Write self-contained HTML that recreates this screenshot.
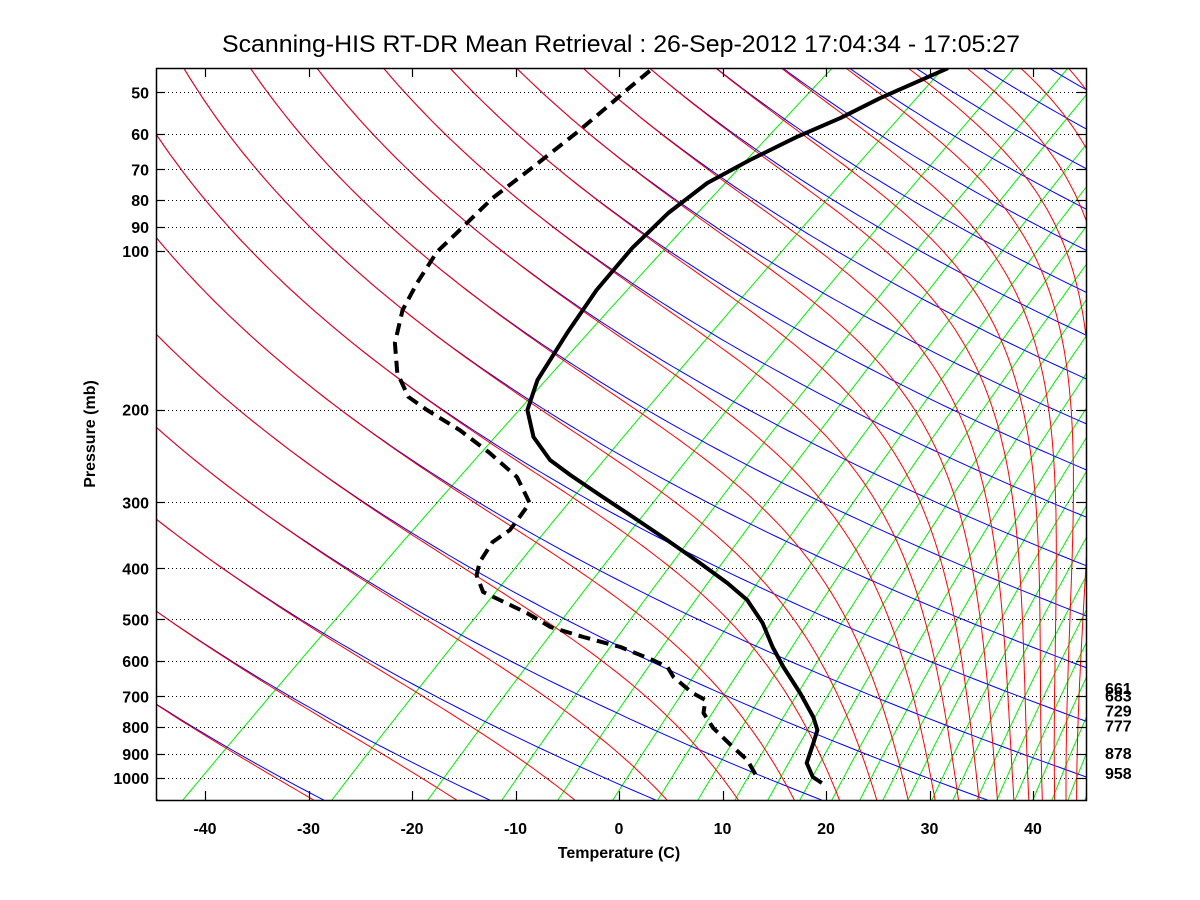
<!DOCTYPE html>
<html>
<head>
<meta charset="utf-8">
<style>
  html, body { margin: 0; padding: 0; background: #fff; }
  svg { display: block; }
  text { font-family: "Liberation Sans", Arial, sans-serif; fill: #000; }
  .tick { font-size: 16px; font-weight: bold; }
</style>
</head>
<body>
<svg id="chart" width="1200" height="900" viewBox="0 0 1200 900">
  <defs>
    <clipPath id="plotclip"><rect x="156" y="68" width="930" height="732"/></clipPath>
  </defs>
  <rect x="0" y="0" width="1200" height="900" fill="#fff"/>
  <text x="621" y="52" font-size="24" text-anchor="middle" textLength="798" lengthAdjust="spacingAndGlyphs">Scanning-HIS RT-DR Mean Retrieval : 26-Sep-2012 17:04:34 - 17:05:27</text>
  <g id="grid" clip-path="url(#plotclip)"></g>
  <g id="axes"></g>
  <text x="619" y="858" class="tick" text-anchor="middle">Temperature (C)</text>
  <text x="0" y="0" class="tick" text-anchor="middle" transform="translate(95,434) rotate(-90)">Pressure (mb)</text>
</svg>
<script>
// ---- chart data ----
const tempPressure = [45, 51.3, 55.9, 60.8, 67.2, 74.3, 84.7, 98.7, 118.6, 143, 175.7, 200.3, 225.4, 249.2, 266.1, 290.4, 319.7, 353.5, 390.9, 426.6, 459.5, 508, 564.2, 615.8, 689.9, 766, 810.9, 858.3, 936.5, 995.6, 1022];
const tempValues = [-55.1, -58.0, -59.4, -61.3, -63.0, -64.3, -64.4, -63.6, -61.9, -59.5, -56.6, -53.9, -50.0, -45.6, -41.8, -36.5, -30.6, -24.5, -18.5, -13.4, -9.4, -5.1, -1.2, 2.3, 7.1, 11.3, 13.3, 14.5, 16.3, 18.6, 20.2];
const dewPressure = [45.5, 48.9, 53.3, 59.4, 69.3, 79.3, 92.4, 100.4, 115, 129.4, 149.5, 170.4, 189.2, 200.3, 218.6, 241.6, 268.5, 300.7, 324, 338.5, 356.7, 389.2, 412, 443.6, 459.5, 486.3, 517, 540, 564.2, 597.1, 615.8, 643.2, 689.9, 711.1, 752.7, 804, 873.3, 924.5, 995.6];
const dewValues = [-83.6, -83.5, -83.3, -83.1, -83.1, -83.2, -82.4, -82.0, -80.1, -78.2, -74.9, -71.0, -67.0, -63.6, -58.0, -52.3, -46.7, -42.3, -41.4, -40.9, -41.1, -39.9, -38.6, -35.9, -33.3, -29.1, -25.1, -20.7, -15.9, -11.2, -8.9, -7.1, -3.3, -1.2, 0.2, 3.0, 7.2, 10.2, 13.2];
const pressureTicks = [50, 60, 70, 80, 90, 100, 200, 300, 400, 500, 600, 700, 800, 900, 1000];
const tempTicks = [-40, -30, -20, -10, 0, 10, 20, 30, 40];
const levelLabels = [661, 683, 729, 777, 878, 958];
// background line families (grid definitions)
const thetaStart = 287.4, thetaStep = 15.6;
const mixingBaseTemps = [-39.43, -25.03, -15.76, -8.6, -3.19, 2.12, 6.47, 10.34, 13.91, 17.1, 20.19, 23.28, 25.99, 28.21, 30.63, 32.95, 34.98, 37.29, 39.23, 40.97, 42.71, 44.54, 46.09, 47.73, 49.3];

// ---- axis functions ----
const PL = 156, PR = 1086, PT = 68, PB = 800;
const S = 10.35, K = 1.267, X0 = 619, Y1000 = 778, YD = 527;
function yOf(p) { return Y1000 + YD * Math.log10(p / 1000); }
function xOf(tc, p) { return X0 + S * tc + K * (Y1000 - yOf(p)); }
const pTop = 1000 * Math.pow(10, (PT - Y1000) / YD) - 1;
const pBot = 1000 * Math.pow(10, (PB - Y1000) / YD) + 1;

const NS = 'http://www.w3.org/2000/svg';
const grid = document.getElementById('grid');
const axes = document.getElementById('axes');
function mk(tag, attrs, parent) {
  const e = document.createElementNS(NS, tag);
  for (const k in attrs) e.setAttribute(k, attrs[k]);
  parent.appendChild(e);
  return e;
}
function pSamples(n) {
  const a = [];
  for (let i = 0; i <= n; i++) a.push(pTop * Math.pow(pBot / pTop, i / n));
  return a;
}
function es(tk) { const c = tk - 273.15; return 6.112 * Math.exp(17.67 * c / (c + 243.5)); }
function ws(tk, p) { const e = es(tk); return 0.622 * e / Math.max(p - e, 1e-6); }
function thetaE(tk, p) { return tk * Math.pow(1000 / p, 0.2857) * Math.exp(2.5e6 * ws(tk, p) / (1005 * tk)); }
const ps = pSamples(160);

// mixing ratio lines (green)
mixingBaseTemps.forEach(function (tc) {
  const w = ws(tc + 273.15, pBot);
  const pts = ps.map(function (p) {
    const e = w * p / (0.622 + w);
    const a = Math.log(e / 6.112);
    const c = 243.5 * a / (17.67 - a);
    return xOf(c, p).toFixed(1) + ',' + yOf(p).toFixed(1);
  });
  const el = mk('polyline', { points: pts.join(' '), fill: 'none', stroke: '#00ee00', 'stroke-width': 1 }, grid);
  
  
});
// dry adiabats (blue)
for (let n = -10; n <= 22; n++) {
  const th = thetaStart + thetaStep * n;
  const pts = ps.map(function (p) { return xOf(th * Math.pow(p / 1000, 0.2857) - 273.15, p).toFixed(1) + ',' + yOf(p).toFixed(1); });
  const el = mk('polyline', { points: pts.join(' '), fill: 'none', stroke: '#0000ff', 'stroke-width': 1 }, grid);
  
  
}
// moist adiabats (red)
for (let n = -10; n <= 22; n++) {
  const te = thetaStart + thetaStep * n;
  const pts = ps.map(function (p) {
    let lo = 120, hi = 360;
    for (let i = 0; i < 40; i++) { const m = (lo + hi) / 2; if (thetaE(m, p) > te) hi = m; else lo = m; }
    return xOf((lo + hi) / 2 - 273.15, p).toFixed(1) + ',' + yOf(p).toFixed(1);
  });
  const el = mk('polyline', { points: pts.join(' '), fill: 'none', stroke: '#ff0000', 'stroke-width': 1 }, grid);
  
  
}
// pressure gridlines
pressureTicks.forEach(function (p) {
  const y = Math.round(yOf(p)) + 0.5;
  const gl = mk('line', { x1: PL, x2: PR, y1: y, y2: y, stroke: '#000', 'stroke-width': 1, 'stroke-dasharray': '1,3' }, grid);
  
  
});
// profiles
function profile(pArr, tArr, name, dash) {
  const pts = pArr.map(function (p, i) { return xOf(tArr[i], p).toFixed(1) + ',' + yOf(p).toFixed(1); });
  const attrs = { points: pts.join(' '), fill: 'none', stroke: '#000', 'stroke-width': 4, 'stroke-linejoin': 'round' };
  if (dash) { attrs['stroke-dasharray'] = '12,7'; }
  const el = mk('polyline', attrs, grid);
  
  
}
profile(dewPressure, dewValues, 'dewpoint-profile', true);
profile(tempPressure, tempValues, 'temperature-profile', false);

// frame
const fr = mk('rect', { x: PL + 0.5, y: PT + 0.5, width: PR - PL, height: PB - PT, fill: 'none', stroke: '#000', 'stroke-width': 1.5 }, axes);


// y ticks + labels
pressureTicks.forEach(function (p) {
  const y = Math.round(yOf(p)) + 0.5;
  const t1 = mk('line', { x1: PL, x2: PL + 9, y1: y, y2: y, stroke: '#000', 'stroke-width': 1.2 }, axes);
  
  
  const t2 = mk('line', { x1: PR - 9, x2: PR, y1: y, y2: y, stroke: '#000', 'stroke-width': 1.2 }, axes);
  
  
  const lb = mk('text', { x: 149, y: yOf(p) + 6, 'text-anchor': 'end', class: 'tick' }, axes);
  lb.textContent = String(p);
  
  
});
// x ticks + labels
tempTicks.forEach(function (t) {
  const x = Math.round(xOf(t, 1000)) + 0.5;
  const b = mk('line', { x1: x, x2: x, y1: PB - 9, y2: PB, stroke: '#000', 'stroke-width': 1.2 }, axes);
  
  
  const tp = mk('line', { x1: x, x2: x, y1: PT, y2: PT + 9, stroke: '#000', 'stroke-width': 1.2 }, axes);
  
  
  const lb = mk('text', { x: xOf(t, 1000), y: 834, 'text-anchor': 'middle', class: 'tick' }, axes);
  lb.textContent = String(t);
  
  
});
// level labels on right
levelLabels.forEach(function (p) {
  const lb = mk('text', { x: 1105, y: yOf(p) + 11, class: 'tick', 'font-size': '16' }, axes);
  lb.textContent = String(p);
  
  
});
</script>
</body>
</html>
